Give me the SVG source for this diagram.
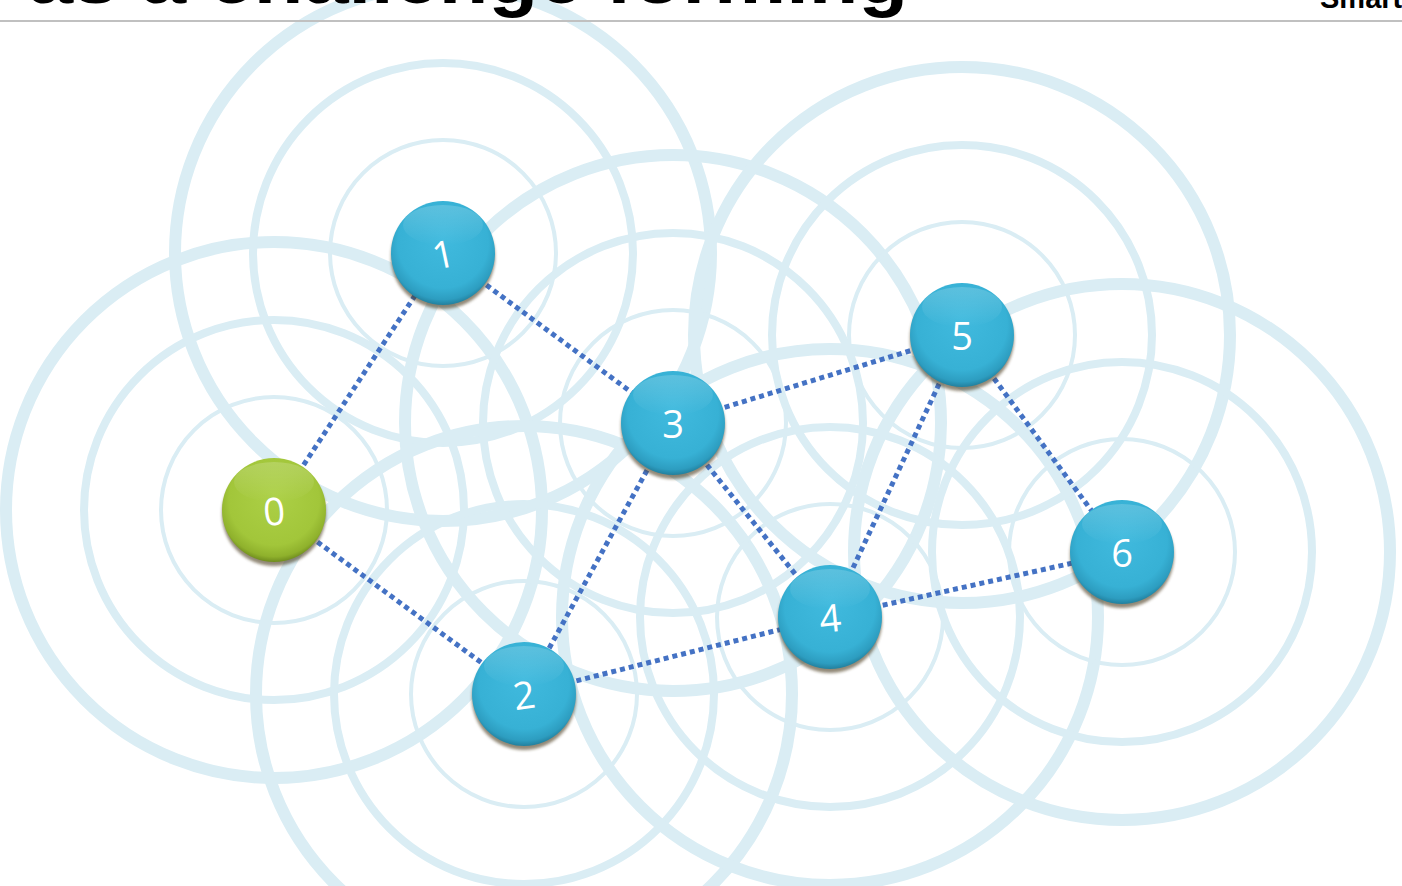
<svg xmlns="http://www.w3.org/2000/svg" width="1402" height="886" viewBox="0 0 1402 886">
  <defs>
    <radialGradient id="gBlue" cx="50%" cy="42%" r="58%" fx="50%" fy="35%">
      <stop offset="0%" stop-color="#40bade"/>
      <stop offset="75%" stop-color="#37b1d5"/>
      <stop offset="92%" stop-color="#2d9dc0"/>
      <stop offset="100%" stop-color="#22809e"/>
    </radialGradient>
    <radialGradient id="gGreen" cx="50%" cy="42%" r="58%" fx="50%" fy="35%">
      <stop offset="0%" stop-color="#acd046"/>
      <stop offset="75%" stop-color="#a2c63a"/>
      <stop offset="92%" stop-color="#8fb12c"/>
      <stop offset="100%" stop-color="#6f8c1e"/>
    </radialGradient>
    <linearGradient id="gloss" x1="0" y1="0" x2="0" y2="1">
      <stop offset="0%" stop-color="#ffffff" stop-opacity="0.18"/>
      <stop offset="100%" stop-color="#ffffff" stop-opacity="0"/>
    </linearGradient>
    <filter id="sh" x="-20%" y="-20%" width="140%" height="150%">
      <feGaussianBlur stdDeviation="1.8"/>
    </filter>
    <g id="rings">
      <circle r="113" class="r1"/>
      <circle r="190" class="r2"/>
      <circle r="268" class="r3"/>
    </g>
  </defs>
  <style>
    .r1,.r2,.r3{fill:none;stroke:#daedf4}
    .r1{stroke-width:4}
    .r2{stroke-width:8}
    .r3{stroke-width:12}
    .edge{stroke:#4472c4;stroke-width:5;stroke-dasharray:5 4;fill:none}
    .shadow{fill:#4a3a1e;opacity:0.6}
    .lbl{fill:#ffffff;font-family:"Open Sans","Noto Sans",sans-serif;font-size:38px;text-anchor:middle;dominant-baseline:central}
    .title{font-family:"Liberation Sans",Arial,sans-serif;font-weight:bold;fill:#000000}
  </style>
  <rect width="1402" height="886" fill="#ffffff"/>

  <g id="background-rings">
    <use href="#rings" x="274" y="510"/>
    <use href="#rings" x="443" y="253"/>
    <use href="#rings" x="524" y="694"/>
    <use href="#rings" x="673" y="423"/>
    <use href="#rings" x="830" y="617"/>
    <use href="#rings" x="962" y="335"/>
    <use href="#rings" x="1122" y="552"/>
  </g>

  <g id="header">
    <text class="title" x="28" y="3" font-size="74" textLength="880" lengthAdjust="spacingAndGlyphs">as a challenge forming</text>
    <text class="title" x="1320" y="8" font-size="29">Smart</text>
    <line x1="0" y1="21" x2="1402" y2="21" stroke="#c0c0c0" stroke-width="2"/>
  </g>

  <g id="connectors">
    <line class="edge" x1="274" y1="510" x2="443" y2="253"/>
    <line class="edge" x1="274" y1="510" x2="524" y2="694"/>
    <line class="edge" x1="443" y1="253" x2="673" y2="423"/>
    <line class="edge" x1="673" y1="423" x2="962" y2="335"/>
    <line class="edge" x1="673" y1="423" x2="524" y2="694"/>
    <line class="edge" x1="673" y1="423" x2="830" y2="617"/>
    <line class="edge" x1="962" y1="335" x2="830" y2="617"/>
    <line class="edge" x1="962" y1="335" x2="1122" y2="552"/>
    <line class="edge" x1="524" y1="694" x2="830" y2="617"/>
    <line class="edge" x1="830" y1="617" x2="1122" y2="552"/>
  </g>

  <g id="node0">
    <circle class="shadow" cx="274" cy="514" r="52" filter="url(#sh)"/>
    <circle cx="274" cy="510" r="52" fill="url(#gGreen)"/>
    <ellipse cx="274" cy="482" rx="40" ry="20" fill="url(#gloss)"/>
    <text class="lbl" x="274" y="510" transform="rotate(-5 274 510)">0</text>
  </g>
  <g id="node1">
    <circle class="shadow" cx="443" cy="257" r="52" filter="url(#sh)"/>
    <circle cx="443" cy="253" r="52" fill="url(#gBlue)"/>
    <ellipse cx="443" cy="225" rx="40" ry="20" fill="url(#gloss)"/>
    <text class="lbl" x="443" y="253" transform="rotate(-12 443 253)">1</text>
  </g>
  <g id="node2">
    <circle class="shadow" cx="524" cy="698" r="52" filter="url(#sh)"/>
    <circle cx="524" cy="694" r="52" fill="url(#gBlue)"/>
    <ellipse cx="524" cy="666" rx="40" ry="20" fill="url(#gloss)"/>
    <text class="lbl" x="524" y="694" transform="rotate(-8 524 694)">2</text>
  </g>
  <g id="node3">
    <circle class="shadow" cx="673" cy="427" r="52" filter="url(#sh)"/>
    <circle cx="673" cy="423" r="52" fill="url(#gBlue)"/>
    <ellipse cx="673" cy="395" rx="40" ry="20" fill="url(#gloss)"/>
    <text class="lbl" x="673" y="423">3</text>
  </g>
  <g id="node4">
    <circle class="shadow" cx="830" cy="621" r="52" filter="url(#sh)"/>
    <circle cx="830" cy="617" r="52" fill="url(#gBlue)"/>
    <ellipse cx="830" cy="589" rx="40" ry="20" fill="url(#gloss)"/>
    <text class="lbl" x="830" y="617" transform="rotate(-6 830 617)">4</text>
  </g>
  <g id="node5">
    <circle class="shadow" cx="962" cy="339" r="52" filter="url(#sh)"/>
    <circle cx="962" cy="335" r="52" fill="url(#gBlue)"/>
    <ellipse cx="962" cy="307" rx="40" ry="20" fill="url(#gloss)"/>
    <text class="lbl" x="962" y="335">5</text>
  </g>
  <g id="node6">
    <circle class="shadow" cx="1122" cy="556" r="52" filter="url(#sh)"/>
    <circle cx="1122" cy="552" r="52" fill="url(#gBlue)"/>
    <ellipse cx="1122" cy="524" rx="40" ry="20" fill="url(#gloss)"/>
    <text class="lbl" x="1122" y="552">6</text>
  </g>
</svg>
